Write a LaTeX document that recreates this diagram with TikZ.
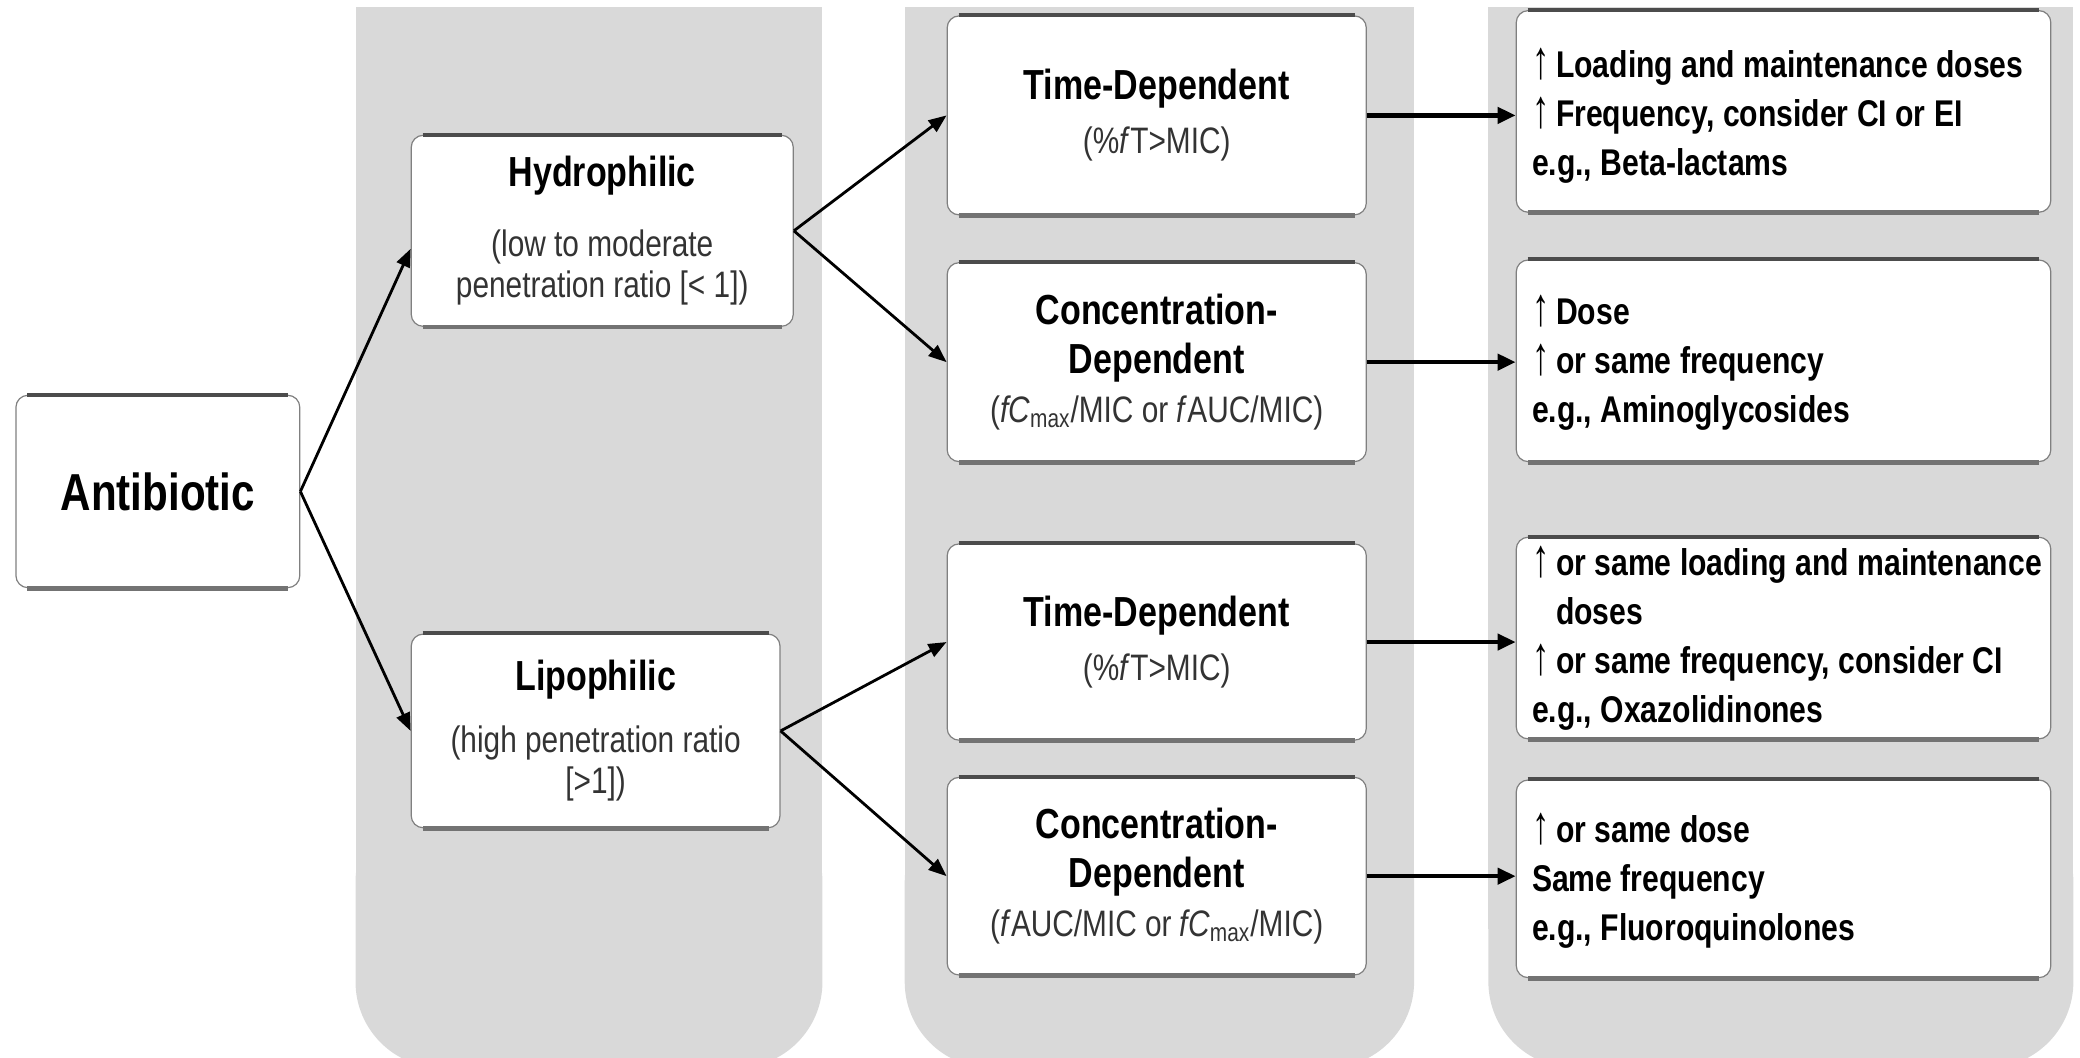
\documentclass[tikz,border=0pt]{standalone}
\usepackage{fontspec}
\usepackage{graphicx}
\setmainfont{Liberation Sans}[FakeStretch=0.81]
\usetikzlibrary{arrows.meta}
\AtBeginDocument{\lineskiplimit=-100pt}

% bold heading inside a box
\newcommand\ttl[1]{{\color{black}\fontsize{21}{24}\selectfont\bfseries #1}}
% up arrow set in a fixed-width slot
\newcommand\incr{\makebox[12pt][l]{\raisebox{-0.5pt}{\scalebox{1.15}[1.45]{\bfseries ↑}}}}
% box node placed by its corners: style, x1, y1, x2, y2, name
\newcommand\place[6]{\node[#1, minimum width={(#4-#2)*0.663pt}, minimum height={(#5-#3)*0.663pt}] (#6) at ({(#2+#4)/2},{(#3+#5)/2})}

\begin{document}
\begin{tikzpicture}[x=0.663pt,y=-0.663pt,
  colfill/.style={fill=black!15},
  box/.style={draw=black!50, line width=0.6pt, fill=white, rounded corners=6pt,
    inner sep=0pt, align=center, text=black!80,
    font=\fontsize{18.4}{20.6}\selectfont},
  rtext/.style={anchor=west, inner sep=0pt, align=left, text=black,
    font=\fontsize{18.6}{24.5}\selectfont\bfseries},
  edgetop/.style={draw=black!70, line width=2pt},
  edgebot/.style={draw=black!55, line width=2.4pt},
  arr/.style={draw=black, line width=1.4pt, -{Triangle[length=9pt,width=7pt]}},
  harr/.style={draw=black, line width=2.1pt, -{Triangle[length=9pt,width=8pt]}}]
\useasboundingbox (0,0) rectangle (1568,797);

% grey column bands
\foreach \xa/\xb in {268/620, 682/1066, 1122/1563}{
  \fill[colfill] (\xa,5) rectangle (\xb,700);
  \fill[colfill, rounded corners=43pt] (\xa,600) rectangle (\xb,805);
}

% source box
\place{box, text=black, font=\fontsize{26}{30}\selectfont\bfseries}{12}{298}{226}{443}{ab} {Antibiotic};

% solubility boxes
\place{box}{310}{102}{598}{246}{hy} {\ttl{Hydrophilic}\\[14.4pt] (low to moderate\\ penetration ratio [< 1])};
\place{box}{310}{478}{588}{624}{li} {\ttl{Lipophilic}\\[10.4pt] (high penetration ratio\\ {[}>1])};

% killing pattern boxes
\place{box}{714}{12}{1030}{162}{td1} {\ttl{Time-Dependent}\\[6.4pt] (\%\textit{f}T>MIC)};
\place{box}{714}{198}{1030}{348}{cd1} {\ttl{Concentration-}\\[3.9pt] \ttl{Dependent}\\[3.9pt] (\textit{fC}\textsubscript{max}/MIC or \textit{f}AUC/MIC)};
\place{box}{714}{410}{1030}{558}{td2} {\ttl{Time-Dependent}\\[6.4pt] (\%\textit{f}T>MIC)};
\place{box}{714}{586}{1030}{735}{cd2} {\ttl{Concentration-}\\[3.9pt] \ttl{Dependent}\\[3.9pt] (\textit{f}AUC/MIC or \textit{fC}\textsubscript{max}/MIC)};

% dosing boxes
\place{box}{1143}{8}{1546}{160}{r1} {};
\place{box}{1143}{196}{1546}{348}{r2} {};
\place{box}{1143}{405}{1546}{557}{r3} {};
\place{box}{1143}{588}{1546}{737}{r4} {};

\node[rtext] (r1t) at ([xshift=8pt,yshift=-2pt]r1.west) {\incr Loading and maintenance doses\\ \incr Frequency, consider CI or EI\\ e.g., Beta-lactams};
\node[rtext] (r2t) at ([xshift=8pt,yshift=-1pt]r2.west) {\incr Dose\\ \incr or same frequency\\ e.g., Aminoglycosides};
\node[rtext] (r3t) at ([xshift=8pt]r3.west) {\incr or same loading and maintenance\\ \hspace*{12pt}doses\\ \incr or same frequency, consider CI\\ e.g., Oxazolidinones};
\node[rtext] (r4t) at ([xshift=8pt,yshift=-1pt]r4.west) {\incr or same dose\\ Same frequency\\ e.g., Fluoroquinolones};

% heavier top and bottom rims of the boxes
\foreach \n in {ab,hy,li,td1,cd1,td2,cd2,r1,r2,r3,r4}{
  \draw[edgetop] ([xshift=6pt]\n.north west) -- ([xshift=-6pt]\n.north east);
  \draw[edgebot] ([xshift=6pt]\n.south west) -- ([xshift=-6pt]\n.south east);
}

% connectors
\draw[arr] (ab.east) -- ([yshift=-9pt]hy.west);
\draw[arr] (ab.east) -- (li.west);
\draw[arr] (hy.east) -- (td1.west);
\draw[arr] (hy.east) -- (cd1.west);
\draw[arr] (li.east) -- (td2.west);
\draw[arr] (li.east) -- (cd2.west);
\draw[harr] (td1.east) -- (td1.east -| r1.west);
\draw[harr] (cd1.east) -- (cd1.east -| r2.west);
\draw[harr] (td2.east) -- (td2.east -| r3.west);
\draw[harr] (cd2.east) -- (cd2.east -| r4.west);
\end{tikzpicture}
\end{document}
